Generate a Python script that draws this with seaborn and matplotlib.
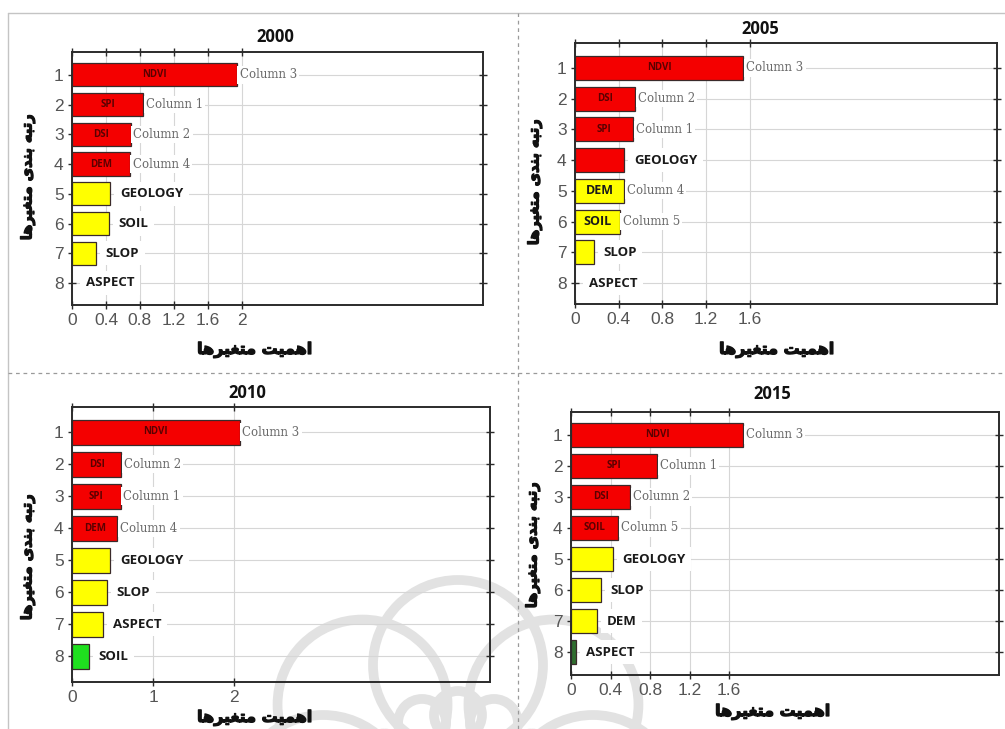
import numpy as np
import pandas as pd
import matplotlib
matplotlib.use("Agg")
import matplotlib.pyplot as plt
import matplotlib.patheffects as pe
import seaborn as sns
from matplotlib.lines import Line2D
from matplotlib.patches import Circle

sns.set_theme(style="white")
plt.rcParams["font.family"] = ["DejaVu Sans"]

# ---- data -------------------------------------------------------------
ranks = ["1", "2", "3", "4", "5", "6", "7", "8"]

vars_2000 = ["NDVI", "SPI", "DSI", "DEM", "GEOLOGY", "SOIL", "SLOP", "ASPECT"]
imp_2000 = [1.94, 0.84, 0.69, 0.68, 0.45, 0.43, 0.28, 0.0]
col_2000 = ["Column 3", "Column 1", "Column 2", "Column 4", "", "", "", ""]
clr_2000 = ["red", "red", "red", "red", "yellow", "yellow", "yellow", "yellow"]

vars_2005 = ["NDVI", "DSI", "SPI", "GEOLOGY", "DEM", "SOIL", "SLOP", "ASPECT"]
imp_2005 = [1.54, 0.55, 0.53, 0.45, 0.45, 0.41, 0.17, 0.0]
col_2005 = ["Column 3", "Column 2", "Column 1", "", "Column 4", "Column 5", "", ""]
clr_2005 = ["red", "red", "red", "red", "yellow", "yellow", "yellow", "yellow"]

vars_2010 = ["NDVI", "DSI", "SPI", "DEM", "GEOLOGY", "SLOP", "ASPECT", "SOIL"]
imp_2010 = [2.07, 0.61, 0.60, 0.56, 0.47, 0.43, 0.38, 0.21]
col_2010 = ["Column 3", "Column 2", "Column 1", "Column 4", "", "", "", ""]
clr_2010 = ["red", "red", "red", "red", "yellow", "yellow", "yellow", "green"]

vars_2015 = ["NDVI", "SPI", "DSI", "SOIL", "GEOLOGY", "SLOP", "DEM", "ASPECT"]
imp_2015 = [1.74, 0.87, 0.60, 0.48, 0.42, 0.30, 0.26, 0.05]
col_2015 = ["Column 3", "Column 1", "Column 2", "Column 5", "", "", "", ""]
clr_2015 = ["red", "red", "red", "red", "yellow", "yellow", "yellow", "darkgreen"]

years = ["2000", "2005", "2010", "2015"]

y_title = "رتبه بندی متغیرها"
x_title = "اهمیت متغیرها"

# ---- Persian shaping (presentation forms, right-to-left) ---------------
FORMS = {
    "ا": ("\uFE8D", "\uFE8E", None, None),
    "ب": ("\uFE8F", "\uFE90", "\uFE91", "\uFE92"),
    "ت": ("\uFE95", "\uFE96", "\uFE97", "\uFE98"),
    "ر": ("\uFEAD", "\uFEAE", None, None),
    "د": ("\uFEA9", "\uFEAA", None, None),
    "ه": ("\uFEE9", "\uFEEA", "\uFEEB", "\uFEEC"),
    "ن": ("\uFEE5", "\uFEE6", "\uFEE7", "\uFEE8"),
    "م": ("\uFEE1", "\uFEE2", "\uFEE3", "\uFEE4"),
    "غ": ("\uFECD", "\uFECE", "\uFECF", "\uFED0"),
    "ی": ("\uFBFC", "\uFBFD", "\uFBFE", "\uFBFF"),
}


def shape_fa(s):
    out = []
    for i, ch in enumerate(s):
        if ch not in FORMS:
            out.append(ch)
            continue
        prev = s[i - 1] if i > 0 else " "
        nxt = s[i + 1] if i + 1 < len(s) else " "
        jp = prev in FORMS and FORMS[prev][2] is not None
        jn = FORMS[ch][2] is not None and nxt in FORMS
        idx = 3 if (jp and jn) else 1 if jp else 2 if jn else 0
        out.append(FORMS[ch][idx])
    return "".join(reversed(out))


COLORS = {"red": "#f40000", "yellow": "#ffff00", "green": "#1fe01f",
          "darkgreen": "#2f6e2f"}

panels = [
    dict(year=years[0], names=vars_2000, vals=imp_2000, cols=col_2000, clr=clr_2000,
         rect=[72, 52, 483, 305], xmax=4.84, ylim=(7.74, -0.77),
         ticks=[0, 0.4, 0.8, 1.2, 1.6, 2.0], tlabels=["0", "0.4", "0.8", "1.2", "1.6", "2"],
         title=(275, 37), xlab=(255, 350), ylab=(28, 177)),
    dict(year=years[1], names=vars_2005, vals=imp_2005, cols=col_2005, clr=clr_2005,
         rect=[575, 43, 997, 304], xmax=3.86, ylim=(7.68, -0.81),
         ticks=[0, 0.4, 0.8, 1.2, 1.6], tlabels=["0", "0.4", "0.8", "1.2", "1.6"],
         title=(760, 29), xlab=(777, 350), ylab=(535, 182)),
    dict(year=years[2], names=vars_2010, vals=imp_2010, cols=col_2010, clr=clr_2010,
         rect=[72, 407, 490, 682], xmax=5.16, ylim=(7.80, -0.78),
         ticks=[0, 1, 2], tlabels=["0", "1", "2"],
         title=(247, 393), xlab=(255, 718), ylab=(28, 557)),
    dict(year=years[3], names=vars_2015, vals=imp_2015, cols=col_2015, clr=clr_2015,
         rect=[571, 412, 999, 675], xmax=4.33, ylim=(7.74, -0.74),
         ticks=[0, 0.4, 0.8, 1.2, 1.6], tlabels=["0", "0.4", "0.8", "1.2", "1.6"],
         title=(772, 394), xlab=(773, 712), ylab=(533, 545)),
]

W, H = 1005, 729
fig = plt.figure(figsize=(W / 100, H / 100), dpi=100)
fig.patch.set_facecolor("white")

# faint rosette watermark near the bottom edge, behind the panels
wm = fig.add_axes([0, 0, 1, 1], zorder=-1)
wm.set_xlim(0, W)
wm.set_ylim(H, 0)
wm.axis("off")
wm.patch.set_alpha(0)
cx, cy = 458, 800
ring = dict(fill=False, edgecolor="#e2e2e2", linewidth=7)
for ang in np.arange(0, 360, 45):
    a = np.deg2rad(ang)
    wm.add_patch(Circle((cx + 135 * np.cos(a), cy + 135 * np.sin(a)), 85, **ring))
for ang in [210, 245, 270, 295, 330]:
    a = np.deg2rad(ang)
    wm.add_patch(Circle((cx + 85 * np.cos(a), cy + 85 * np.sin(a)), 24, **ring))

bold_fx = [pe.withStroke(linewidth=0.9, foreground="#111111")]

for p in panels:
    l, t, r, b = p["rect"]
    ax = fig.add_axes([l / W, 1 - b / H, (r - l) / W, (b - t) / H])
    ax.set_facecolor("none")
    df = pd.DataFrame({"rank": ranks, "imp": p["vals"], "name": p["names"]})
    pal = {rk: COLORS[c] for rk, c in zip(ranks, p["clr"])}
    sns.barplot(data=df, x="imp", y="rank", hue="rank", palette=pal, order=ranks,
                hue_order=ranks, orient="h", width=0.78, legend=False,
                edgecolor="#3a2a2a", linewidth=0.9, saturation=1, ax=ax)
    for bar, v in zip(ax.patches, p["vals"]):
        if v <= 0:
            bar.set_visible(False)
    ax.set_xlim(0, p["xmax"])
    ax.set_ylim(*p["ylim"])
    ax.set_xticks(p["ticks"])
    ax.set_xticklabels(p["tlabels"])
    ax.set_xlabel("")
    ax.set_ylabel("")
    ax.set_axisbelow(True)
    ax.grid(True, color="#d6d6d6", linewidth=0.8)
    for s in ax.spines.values():
        s.set_visible(True)
        s.set_color("#2b2b2b")
        s.set_linewidth(1.4)
    ax.tick_params(axis="both", which="major", direction="inout", length=6,
                   width=1.0, color="#2b2b2b", labelsize=12.5, labelcolor="#555555",
                   top=True, right=True, left=True, bottom=True, pad=3)
    for lab in ax.get_xticklabels() + ax.get_yticklabels():
        lab.set_fontfamily("Liberation Sans")

    for i, (nm, v, col, c) in enumerate(zip(p["names"], p["vals"], p["cols"], p["clr"])):
        if col:
            # variable name inside the bar, column tag just past its end
            if c == "red":
                ax.text(v / 2, i, nm, ha="center", va="center", fontsize=7,
                        fontweight="bold", color="#5a0000", family="Open Sans")
            else:
                ax.text(v / 2, i, nm, ha="center", va="center", fontsize=9,
                        fontweight="bold", color="#1a1a1a", family="Open Sans")
            ax.annotate(col, (v, i), xytext=(2, 0), textcoords="offset points",
                        ha="left", va="center", fontsize=8.5, color="#6a6a6a",
                        family="DejaVu Serif",
                        bbox=dict(facecolor="white", edgecolor="none", pad=1.5))
        else:
            off = 7 if v > 0 else 10
            ax.annotate(nm, (v, i), xytext=(off, 0), textcoords="offset points",
                        ha="left", va="center", fontsize=9.5, fontweight="bold",
                        color="#1a1a1a", family="Open Sans",
                        bbox=dict(facecolor="white", edgecolor="none", pad=4))

    fig.text(p["title"][0] / W, 1 - p["title"][1] / H, p["year"], ha="center",
             va="center", fontsize=12, fontweight="bold", family="Open Sans",
             color="#111111")
    fig.text(p["xlab"][0] / W, 1 - p["xlab"][1] / H, shape_fa(x_title), ha="center",
             va="center", fontsize=11.5, fontweight="bold", color="#111111",
             path_effects=bold_fx)
    fig.text(p["ylab"][0] / W, 1 - p["ylab"][1] / H, shape_fa(y_title), ha="center",
             va="center", fontsize=10.5, fontweight="bold", rotation=90,
             color="#111111", path_effects=bold_fx)

# page frame and dashed quadrant dividers
frame = dict(transform=fig.transFigure, color="#c4c4c4", linewidth=1.0)
fig.add_artist(Line2D([8 / W, 1], [1 - 13 / H] * 2, **frame))
fig.add_artist(Line2D([8 / W] * 2, [0, 1 - 13 / H], **frame))
dash = dict(transform=fig.transFigure, color="#9a9a9a", linewidth=0.9,
            linestyle=(0, (3, 3)))
fig.add_artist(Line2D([518 / W] * 2, [0, 1 - 13 / H], **dash))
fig.add_artist(Line2D([8 / W, 1], [1 - 373 / H] * 2, **dash))

fig.savefig("out.png", dpi=100, facecolor="white")
